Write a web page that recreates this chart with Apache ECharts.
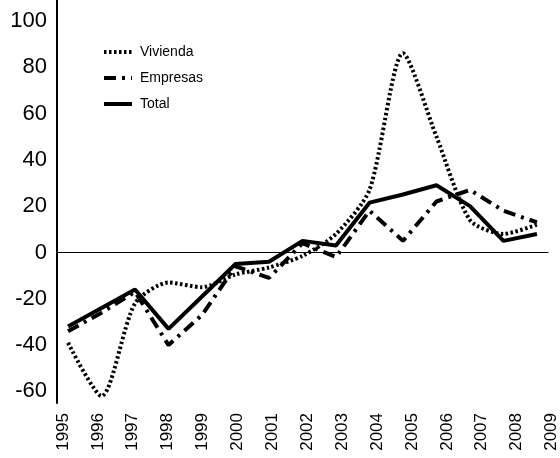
<!DOCTYPE html>
<html>
<head>
<meta charset="utf-8">
<script src="https://cdn.jsdelivr.net/npm/echarts@6/dist/echarts.min.js"></script>
<style>
  html, body { margin: 0; padding: 0; background: #fff; }
  #chart { width: 560px; height: 458px; }
</style>
</head>
<body>
<div id="chart"></div>
<script>
var years = ['1995', '1996', '1997', '1998', '1999', '2000', '2001', '2002', '2003', '2004', '2005', '2006', '2007', '2008', '2009'];
var vivienda = [-39, -62, -22, -13, -15, -9.5, -6.5, -1.5, 8, 27, 86, 50, 14, 8, 12];
var empresas = [-34, -26, -17, -40, -27, -6, -11, 4, -2, 18, 5, 22, 27, 18, 13];
var total = [-32, -24, -16, -33, -19, -5, -4, 5, 3, 21.5, 25, 29, 20, 5, 8];
var yTicks = [-60, -40, -20, 0, 20, 40, 60, 80, 100];

function pairs(vals) {
    return vals.map(function (v, i) { return [Number(years[i]), v]; });
}

var chart = echarts.init(document.getElementById('chart'));
chart.setOption({
    animation: false,
    color: ['#000', '#000', '#000'],
    textStyle: { fontFamily: 'Liberation Sans, Arial, sans-serif', color: '#000' },
    legend: {
        orient: 'vertical',
        left: 97,
        top: 40,
        itemWidth: 28,
        itemHeight: 14,
        itemGap: 12,
        itemStyle: { opacity: 0 },
        lineStyle: { width: 4 },
        textStyle: { fontSize: 14, color: '#000', padding: [0, 0, 0, 3] },
        data: ['Vivienda', 'Empresas', 'Total']
    },
    grid: [
        { left: 57, right: 12, top: 0, bottom: 55 },
        { left: 63, right: 2, top: 0, bottom: 55 }
    ],
    xAxis: [
        {
            type: 'value',
            gridIndex: 0,
            min: 1994.67,
            max: 2009.33,
            splitLine: { show: false },
            axisTick: { show: false },
            axisLabel: { show: false },
            axisLine: { onZero: true, lineStyle: { color: '#000', width: 1 } }
        },
        {
            type: 'category',
            gridIndex: 1,
            boundaryGap: false,
            data: years,
            axisLine: { show: false },
            axisTick: { show: false },
            axisLabel: { rotate: 90, margin: 10, fontSize: 17, color: '#000', interval: 0 }
        }
    ],
    yAxis: [
        {
            type: 'value',
            gridIndex: 0,
            min: -65,
            max: 109,
            splitLine: { show: false },
            axisLine: { show: true, lineStyle: { color: '#000', width: 2 } },
            axisTick: { show: false },
            axisLabel: { fontSize: 22, color: '#000', margin: 10, customValues: yTicks }
        },
        {
            type: 'value',
            gridIndex: 1,
            show: false
        }
    ],
    series: [
        {
            name: 'Vivienda',
            type: 'line',
            symbol: 'none',
            smooth: 0.25,
            data: pairs(vivienda),
            lineStyle: { color: '#000', width: 4, type: [2.5, 2.5] }
        },
        {
            name: 'Empresas',
            type: 'line',
            symbol: 'none',
            data: pairs(empresas),
            lineStyle: { color: '#000', width: 4, type: [12, 6, 3, 6] }
        },
        {
            name: 'Total',
            type: 'line',
            symbol: 'none',
            data: pairs(total),
            lineStyle: { color: '#000', width: 4 }
        }
    ]
});
</script>
</body>
</html>
